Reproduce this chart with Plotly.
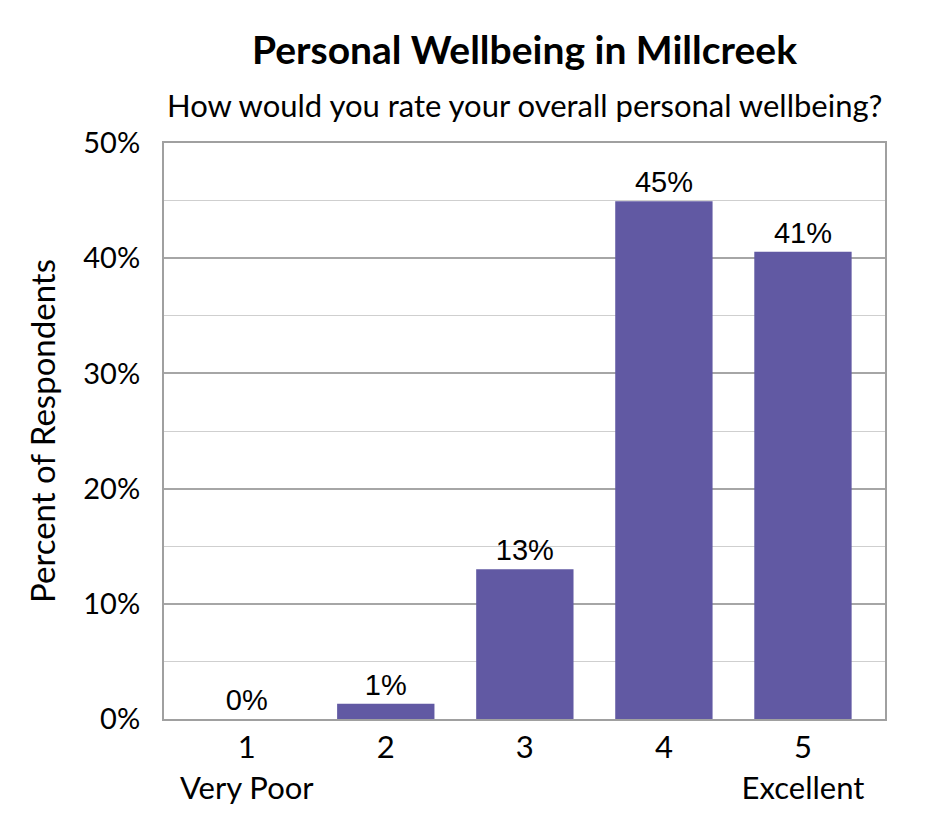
import plotly.graph_objects as go

categories = [1, 2, 3, 4, 5]
tick_labels = ["1<br>Very Poor", "2", "3", "4", "5<br>Excellent"]
percents = [0.0, 1.33, 13.0, 44.94, 40.55]
bar_labels = ["0%", "1%", "13%", "45%", "41%"]
y_ticks = [0, 10, 20, 30, 40, 50]
y_tick_labels = ["0%", "10%", "20%", "30%", "40%", "50%"]

fig = go.Figure()
fig.add_trace(go.Bar(
    x=categories,
    y=percents,
    text=bar_labels,
    textposition="outside",
    cliponaxis=False,
    textfont={"family": "Liberation Sans", "size": 29, "color": "#000000"},
    marker={"color": "#6159a3", "line": {"width": 0}},
    width=0.7,
    showlegend=False,
))

fig.update_layout(
    width=945,
    height=840,
    paper_bgcolor="white",
    plot_bgcolor="white",
    margin={"l": 156, "r": 68, "t": 135, "b": 129},
    font={"family": "Lato", "size": 28, "color": "#000000"},
    title={
        "text": "<b>Personal Wellbeing in Millcreek</b>",
        "x": 0.5,
        "xref": "paper",
        "xanchor": "center",
        "y": 1 - 42 / 840,
        "yref": "container",
        "yanchor": "middle",
        "font": {"family": "Lato", "size": 39, "color": "#000000"},
    },
    bargap=0.3,
)
fig.add_annotation(
    text="How would you rate your overall personal wellbeing?",
    xref="paper", yref="paper", x=0.5, y=1.0, yshift=38,
    xanchor="center", yanchor="middle", showarrow=False,
    font={"family": "Lato", "size": 31, "color": "#000000"},
)
fig.update_xaxes(
    tickmode="array",
    tickvals=categories,
    ticktext=tick_labels,
    range=[0.405, 5.59],
    showgrid=False,
    showline=True,
    linecolor="#a0a0a0",
    linewidth=2,
    mirror=True,
    ticks="",
    tickfont={"family": "Lato", "size": 31},
)
fig.update_yaxes(
    range=[0, 50],
    tickmode="array",
    tickvals=y_ticks,
    ticktext=y_tick_labels,
    showgrid=True,
    gridcolor="#a6a6a6",
    gridwidth=2,
    minor={"dtick": 5, "showgrid": True, "gridcolor": "#cfcfcf", "gridwidth": 1},
    showline=True,
    linecolor="#a0a0a0",
    linewidth=2,
    mirror=True,
    zeroline=False,
    ticks="",
    ticklabelstandoff=16,
    tickfont={"family": "Lato", "size": 29},
    title={"text": "Percent of Respondents", "font": {"family": "Lato", "size": 33}, "standoff": 18},
)

fig.write_html("out.html")
